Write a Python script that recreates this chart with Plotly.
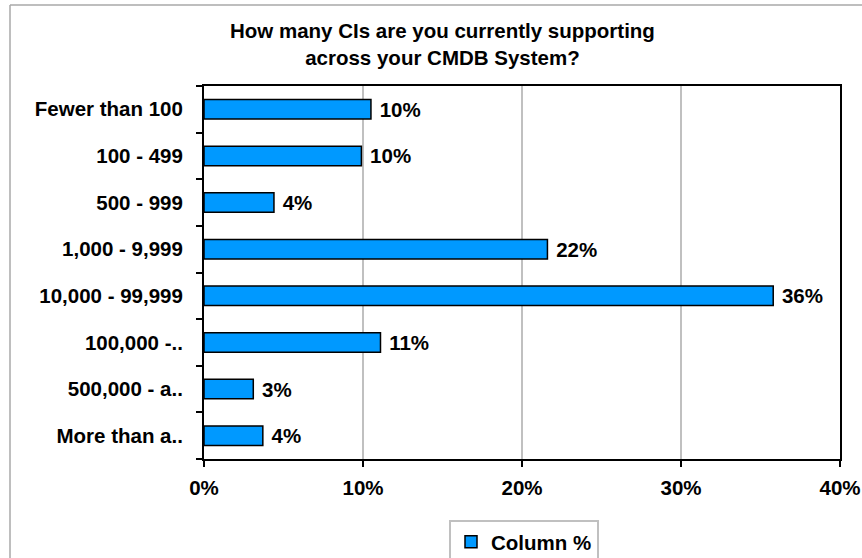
import plotly.graph_objects as go

categories = ["Fewer than 100", "100 - 499", "500 - 999", "1,000 - 9,999",
              "10,000 - 99,999", "100,000 -..", "500,000 - a..", "More than a.."]
values = [10.5, 9.9, 4.4, 21.6, 35.8, 11.1, 3.1, 3.7]
value_labels = ["10%", "10%", "4%", "22%", "36%", "11%", "3%", "4%"]
x_ticks = [0, 10, 20, 30, 40]
x_tick_labels = ["0%", "10%", "20%", "30%", "40%"]
title_text = "How many CIs are you currently supporting<br>across your CMDB System?"

W, H = 862, 558
L, R, T, B = 204, 22, 86, 99
pw, ph = W - L - R, H - T - B

def px_x(x):
    return (x - L) / pw

def px_y(y):
    return (H - B - y) / ph

FONT = "Liberation Sans, Arial, sans-serif"
FS = 20.5

fig = go.Figure()
fig.add_trace(go.Bar(
    y=categories, x=values, orientation="h", name="<b>Column %</b>",
    marker=dict(color="#0099FF", line=dict(color="black", width=1.5)),
    text=value_labels, textposition="outside", cliponaxis=False,
    constraintext="none",
    texttemplate="\u00a0<b>%{text}</b>",
    textfont=dict(family=FONT, size=FS, color="black"),
    width=0.42,
))

fig.update_layout(
    width=W, height=H,
    margin=dict(l=L, r=R, t=T, b=B, autoexpand=False),
    paper_bgcolor="white", plot_bgcolor="white",
    font=dict(family=FONT, size=FS, color="black"),
    showlegend=True,
    legend=dict(orientation="h", x=px_x(449), xanchor="left", y=px_y(520), yanchor="top",
                bordercolor="#c0c0c0", borderwidth=2, bgcolor="white",
                font=dict(family=FONT, size=FS, color="black"),
                itemwidth=30, tracegroupgap=0),
    bargap=0.58,
)

fig.add_annotation(
    text="<b>%s</b>" % title_text, xref="paper", yref="paper",
    x=px_x(442), y=px_y(17), xanchor="center", yanchor="top",
    showarrow=False, align="center",
    font=dict(family=FONT, size=FS, color="black"),
)

fig.update_xaxes(
    range=[0, 40], tickvals=x_ticks, ticktext=["<b>%s</b>" % t for t in x_tick_labels],
    showgrid=True, gridcolor="#c0c0c0", gridwidth=1.5,
    showline=True, linecolor="black", linewidth=2, mirror=True,
    ticks="outside", ticklen=6, tickcolor="black", tickwidth=1.5,
    zeroline=False, tickfont=dict(size=FS), ticklabelstandoff=3, automargin=False,
)
fig.update_yaxes(
    autorange="reversed", tickvals=categories,
    ticktext=["<b>%s</b>" % c for c in categories],
    showline=True, linecolor="black", linewidth=2, mirror=True,
    ticks="outside", ticklen=6, tickcolor="black", tickwidth=1.5,
    tickson="boundaries", showgrid=False, tickfont=dict(size=FS),
    ticklabelstandoff=15, automargin=False,
)

# outer chart frame (left and top edges visible)
fig.add_shape(type="line", xref="paper", yref="paper",
              x0=px_x(10), x1=px_x(10), y0=px_y(5), y1=px_y(H + 5),
              line=dict(color="#a8a8a8", width=1.5))
fig.add_shape(type="line", xref="paper", yref="paper",
              x0=px_x(10), x1=px_x(W + 5), y0=px_y(5), y1=px_y(5),
              line=dict(color="#a8a8a8", width=1.5))

fig.write_html("out.html")
